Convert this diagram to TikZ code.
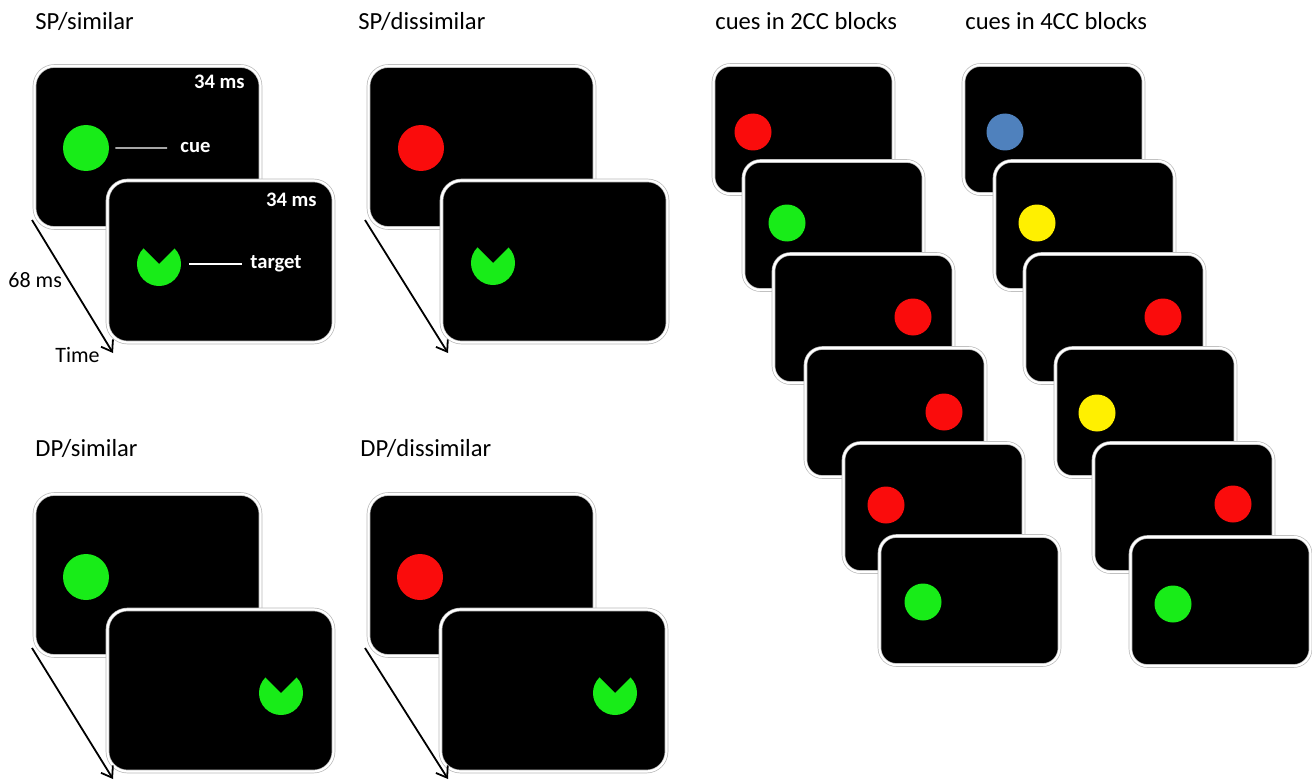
\documentclass[tikz,border=0pt]{standalone}
\usepackage{fontspec}
\setmainfont{Carlito}
\usetikzlibrary{arrows.meta}
\definecolor{cgreen}{RGB}{24,236,24}
\definecolor{cred}{RGB}{250,12,12}
\definecolor{cyellow}{RGB}{255,240,0}
\definecolor{cblue}{RGB}{79,129,189}
\begin{document}
\begin{tikzpicture}[x=0.5pt,y=-0.5pt,
  bigscr/.style={rectangle, fill=black, draw=gray!55, double=white, double distance=1.1pt, line width=0.35pt, rounded corners=10pt, minimum width=113pt, minimum height=81pt, inner sep=0pt},
  smallscr/.style={rectangle, fill=black, draw=gray!55, double=white, double distance=1.1pt, line width=0.35pt, rounded corners=8.5pt, minimum width=90pt, minimum height=64.5pt, inner sep=0pt},
  bigdot/.style={circle, fill=#1, inner sep=0pt, minimum size=23pt},
  smalldot/.style={circle, fill=#1, inner sep=0pt, minimum size=18.5pt},
  title/.style={anchor=base west, font=\fontsize{12.3}{14}\selectfont, inner sep=0pt},
  wlabel/.style={text=white, font=\bfseries\fontsize{10.3}{12}\selectfont, inner sep=0pt},
  blabel/.style={text=black, font=\fontsize{11}{13}\selectfont, inner sep=0pt},
  timearrow/.style={-{Straight Barb[length=5pt,width=7pt]}, line width=0.9pt, black},
  pointer/.style={white, line width=0.6pt}]
\useasboundingbox[fill=white] (0,0) rectangle (1312,781);

% ---------- titles
\node[title] (t1) at (35,30) {SP/similar};
\node[title] (t2) at (358,30) {SP/dissimilar};
\node[title] (t3) at (35,456) {DP/similar};
\node[title] (t4) at (360,456) {DP/dissimilar};
\node[title] (t5) at (715,30) {cues in 2CC blocks};
\node[title] (t6) at (965,30) {cues in 4CC blocks};

% ---------- SP/similar
\node[bigscr] (p1a) at (147.5,147) {};
\node[bigscr] (p1b) at (220.5,261.5) {};
\node[bigdot=cgreen] (p1cue) at (86,148) {};
\fill[cgreen] (159,264) -- ++(315:22) arc (315:585:22) -- cycle;
\coordinate (p1tgt) at (159,264);
\node[wlabel, anchor=base east] (p1ms1) at (245,89) {34 ms};
\node[wlabel, anchor=base east] (p1ms2) at (317,206) {34 ms};
\node[wlabel, anchor=base west] (cuelbl) at (180,153) {cue};
\node[wlabel, anchor=base west] (tgtlbl) at (250,268) {target};
\draw[pointer] ([xshift=3pt]p1cue.east) -- (cuelbl.west -| 167,148);
\draw[pointer] ([xshift=15pt]p1tgt) -- (242,264);
\coordinate (p1s) at (32,220);
\coordinate (p1e) at (113,353);
\draw[timearrow] (p1s) -- (p1e);
\node[blabel, anchor=base west] (ms68) at (8,287) {68 ms};
\node[blabel, anchor=base west] (timelbl) at (55,362) {Time};

% ---------- SP/dissimilar
\node[bigscr] (p2a) at (481.5,147) {};
\node[bigscr] (p2b) at (554.5,261.5) {};
\node[bigdot=cred] (p2cue) at (421,148) {};
\fill[cgreen] (493,263) -- ++(315:22) arc (315:585:22) -- cycle;
\coordinate (p2s) at (365,220);
\coordinate (p2e) at (448,353);
\draw[timearrow] (p2s) -- (p2e);

% ---------- DP/similar
\node[bigscr] (p3a) at (147.5,575) {};
\node[bigscr] (p3b) at (220.5,690.5) {};
\node[bigdot=cgreen] (p3cue) at (86,577) {};
\fill[cgreen] (281,693) -- ++(315:22) arc (315:585:22) -- cycle;
\coordinate (p3s) at (32,648);
\coordinate (p3e) at (113,779);
\draw[timearrow] (p3s) -- (p3e);

% ---------- DP/dissimilar
\node[bigscr] (p4a) at (481.5,575) {};
\node[bigscr] (p4b) at (553.5,690.5) {};
\node[bigdot=cred] (p4cue) at (420,577) {};
\fill[cgreen] (615,693) -- ++(315:22) arc (315:585:22) -- cycle;
\coordinate (p4s) at (365,648);
\coordinate (p4e) at (448,779);
\draw[timearrow] (p4s) -- (p4e);

% ---------- cues in 2CC blocks
\node[smallscr] (a1) at (803.5,129.5) {};
\node[smalldot=cred] (a1d) at (753,132) {};
\node[smallscr] (a2) at (833.5,225.5) {};
\node[smalldot=cgreen] (a2d) at (787,223) {};
\node[smallscr] (a3) at (863.5,318.5) {};
\node[smalldot=cred] (a3d) at (913,317) {};
\node[smallscr] (a4) at (895.5,412.5) {};
\node[smalldot=cred] (a4d) at (944,412) {};
\node[smallscr] (a5) at (933.5,507.5) {};
\node[smalldot=cred] (a5d) at (886,505) {};
\node[smallscr] (a6) at (969.5,600.5) {};
\node[smalldot=cgreen] (a6d) at (923,602) {};

% ---------- cues in 4CC blocks
\node[smallscr] (b1) at (1053.5,129.5) {};
\node[smalldot=cblue] (b1d) at (1005,132) {};
\node[smallscr] (b2) at (1084.5,225.5) {};
\node[smalldot=cyellow] (b2d) at (1037,223) {};
\node[smallscr] (b3) at (1114.5,318.5) {};
\node[smalldot=cred] (b3d) at (1163,317) {};
\node[smallscr] (b4) at (1145.5,412.5) {};
\node[smalldot=cyellow] (b4d) at (1097,413) {};
\node[smallscr] (b5) at (1183.5,507.5) {};
\node[smalldot=cred] (b5d) at (1233,504) {};
\node[smallscr] (b6) at (1220.5,601.5) {};
\node[smalldot=cgreen] (b6d) at (1173,604) {};
\end{tikzpicture}
\end{document}
